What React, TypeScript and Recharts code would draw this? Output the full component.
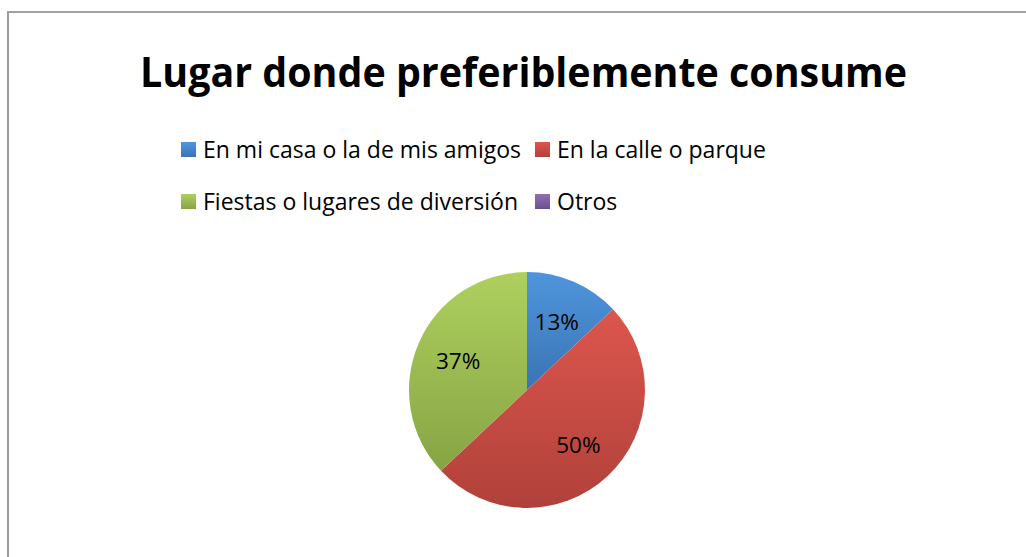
import { PieChart, Pie, Cell, Legend } from 'recharts';

const CATEGORIES = [
  'En mi casa o la de mis amigos',
  'En la calle o parque',
  'Fiestas o lugares de diversión',
  'Otros',
];
const VALUES = [13, 50, 37, 0];
const TITLE = 'Lugar donde preferiblemente consume';

const GRADIENTS = [
  { id: 'gBlue', top: '#4f95dc', bottom: '#3a74b3' },
  { id: 'gRed', top: '#dc564d', bottom: '#b0413a' },
  { id: 'gGreen', top: '#aed05f', bottom: '#87a444' },
  { id: 'gPurple', top: '#8f71b4', bottom: '#6b5090' },
];

const FONT = '"Open Sans", "Noto Sans", sans-serif';
const RADIAN = Math.PI / 180;

const data = CATEGORIES.map((name, i) => ({ name, value: VALUES[i] }));

function SliceLabel(props: any) {
  const { cx, cy, midAngle, value, percent } = props;
  if (!value) return null;
  const r = 75;
  const x = cx + r * Math.cos(-midAngle * RADIAN);
  const y = cy + r * Math.sin(-midAngle * RADIAN);
  return (
    <text
      x={x}
      y={y}
      textAnchor="middle"
      dominantBaseline="central"
      fill="#000"
      style={{ fontFamily: FONT, fontSize: 22.5 }}
    >
      {Math.round(percent * 100)}%
    </text>
  );
}

function LegendContent() {
  return (
    <div style={legendGrid}>
      {CATEGORIES.map((name, i) => (
        <div key={name} style={legendItem}>
          <span
            style={{
              ...swatch,
              background: `linear-gradient(${GRADIENTS[i].top}, ${GRADIENTS[i].bottom})`,
            }}
          />
          <span>{name}</span>
        </div>
      ))}
    </div>
  );
}

const legendGrid: React.CSSProperties = {
  display: 'grid',
  gridTemplateColumns: '354px 300px',
  gridAutoRows: '52px',
  fontFamily: FONT,
  fontSize: 23,
  color: '#000',
};

const legendItem: React.CSSProperties = {
  display: 'flex',
  alignItems: 'center',
  height: 22,
  whiteSpace: 'nowrap',
};

const swatch: React.CSSProperties = {
  display: 'inline-block',
  width: 15,
  height: 15,
  marginRight: 7,
  flex: 'none',
};

export default function App() {
  return (
    <div style={frameStyle}>
      <svg width={0} height={0} style={{ position: 'absolute' }}>
        <defs>
          {GRADIENTS.map((g) => (
            <linearGradient key={g.id} id={g.id} x1="0" y1="0" x2="0" y2="1">
              <stop offset="0%" stopColor={g.top} />
              <stop offset="100%" stopColor={g.bottom} />
            </linearGradient>
          ))}
        </defs>
      </svg>
      <svg width={1017} height={100} style={{ position: 'absolute', left: 0, top: 0 }}>
        <text
          x={514.5}
          y={73.7}
          textAnchor="middle"
          textLength={767}
          lengthAdjust="spacingAndGlyphs"
          style={{ fontFamily: FONT, fontWeight: 700, fontSize: 42 }}
          fill="#000"
        >
          {TITLE}
        </text>
      </svg>
      <PieChart width={1017} height={544} margin={{ top: 0, right: 0, bottom: 0, left: 0 }}>
        <Pie
          data={data}
          dataKey="value"
          nameKey="name"
          cx={518}
          cy={377}
          outerRadius={118}
          startAngle={90}
          endAngle={-270}
          stroke="none"
          label={SliceLabel}
          labelLine={false}
          isAnimationActive={false}
        >
          {data.map((_, i) => (
            <Cell key={i} fill={`url(#${GRADIENTS[i].id})`} />
          ))}
        </Pie>
        <Legend
          verticalAlign="bottom"
          content={LegendContent}
          wrapperStyle={{ position: 'absolute', left: 172, top: 125, width: 700, bottom: 'auto' }}
        />
      </PieChart>
    </div>
  );
}

const frameStyle: React.CSSProperties = {
  position: 'fixed',
  left: 7,
  top: 11,
  width: 1017,
  height: 544,
  borderLeft: '2px solid #9a9a9a',
  borderTop: '2px solid #a0a0a0',
  background: '#fff',
  overflow: 'hidden',
};
